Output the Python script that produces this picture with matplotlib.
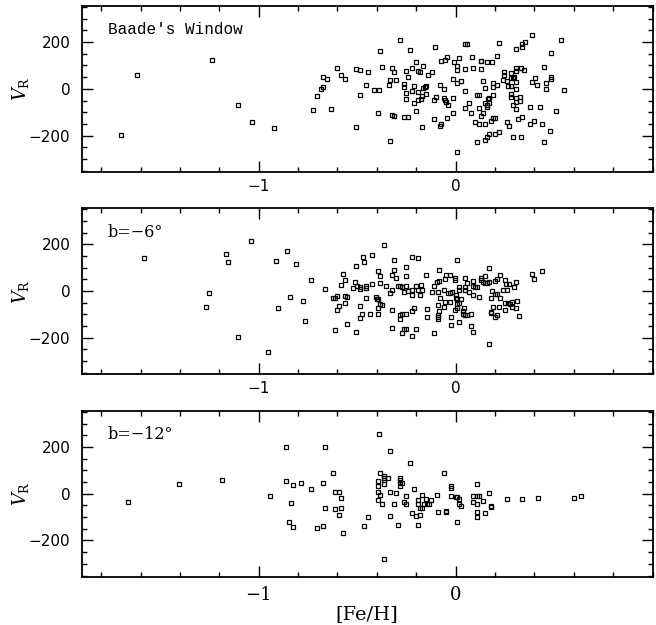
import matplotlib
matplotlib.use("Agg")
import matplotlib.pyplot as plt
from matplotlib.ticker import MultipleLocator, FixedLocator

plt.rcParams['mathtext.fontset'] = 'dejavuserif'

# ---------------- data ----------------
fe_baade = [-1.697, -1.616, -1.235, -1.105, -1.036, -0.924, -0.722, -0.704, -0.685, -0.673, -0.673, -0.655,
            -0.633, -0.604, -0.582, -0.563, -0.504, -0.484, -0.484, -0.504, -0.453, -0.443,
            -0.284, -0.382, -0.233, -0.103, 0.046, 0.057, 0.218, 0.389, 0.308, 0.335, 0.338, 0.350, 0.487, 0.536,
            -0.372, -0.324, -0.314, -0.252, -0.223, -0.201, -0.193, -0.181, -0.164, -0.142, -0.122, -0.073,
            -0.054, -0.042, -0.010, 0.008, 0.008, 0.017, 0.049, 0.081, 0.088, 0.127, 0.130, 0.128, 0.159,
            0.186, 0.208, 0.248, 0.248, 0.279, 0.308, 0.308, 0.330, 0.348, 0.450, 0.487, 0.487,
            -0.412, -0.390, -0.333, -0.302, -0.340, -0.262, -0.262, -0.252, -0.240, -0.223, -0.211, -0.193,
            -0.164, -0.155, -0.150, -0.150, -0.081, -0.061, -0.012, 0.008, 0.029, 0.049, 0.139, 0.149,
            0.189, 0.189, 0.208, 0.240, 0.259, 0.267, 0.279, 0.289, 0.297, 0.309, 0.279, 0.309, 0.389,
            0.401, 0.411, 0.460, 0.460, 0.549,
            -0.252, -0.211, -0.191, -0.174, -0.172, -0.112, -0.101, -0.059, -0.054, -0.049, -0.041, -0.012,
            0.049, 0.068, 0.110, 0.118, 0.118, 0.149, 0.159, 0.164, 0.169, 0.169, 0.189, 0.159, 0.279,
            0.279, 0.308, 0.328, 0.308, 0.328, 0.289, 0.308, 0.379, 0.429, 0.509,
            -0.392, -0.324, -0.313, -0.262, -0.240, -0.201, -0.172, -0.112, -0.081, -0.073, -0.042, -0.012,
            0.078, 0.098, 0.118, 0.149, 0.128, 0.139, 0.179, 0.189, 0.198, 0.259, 0.269, 0.318, 0.338,
            0.379, 0.399, 0.440, 0.480,
            -0.333, 0.108, 0.149, 0.159, 0.169, 0.198, 0.218, 0.289, 0.330, 0.450, 0.008]
vr_baade = [-199, 58, 125, -71, -140, -169, -91, -30, -1, 10, 51, 43,
            -85, 89, 61, 41, 84, 80, -27, -162, 16, 72,
            208, 163, 167, 179, 190, 193, 194, 228, 169, 180, 193, 201, 155, 208,
            94, 89, 71, 78, 89, 113, 78, 74, 99, 60, 74, 118,
            125, 136, 113, 98, 82, 133, 84, 136, 89, 118, 121, 86, 116,
            116, 140, 72, 61, 68, 88, 77, 91, 81, 95, 52, 43,
            -7, -7, 37, 38, 16, 20, 7, -16, 51, -10, 14, -14,
            3, 7, 13, -24, 18, -1, 44, 23, 35, -11, 35, 4,
            27, 6, 17, 38, 34, 11, 48, 47, 50, 28, 13, -1, 28,
            48, 18, 27, -1, -7,
            -43, -60, -48, -43, -31, -48, -34, -40, -47, -57, -71, -37,
            -82, -60, -26, -26, -82, -60, -68, -43, -40, -60, -28, -78, -21,
            -34, -40, -34, -57, -54, -69, -84, -79, -79, -96,
            -102, -111, -116, -122, -122, -96, -162, -130, -160, -152, -126, -105,
            -105, -143, -152, -149, -118, -105, -136, -126, -126, -143, -157, -130, -122,
            -149, -136, -152, -180,
            -223, -228, -218, -204, -193, -193, -186, -206, -206, -228, -268]

fe_b6 = [-1.584, -1.037, -1.166, -1.154, -1.254, -1.266, -1.103, -0.954, -0.914, -0.854, -0.812, -0.904,
         -0.843, -0.773, -0.733, -0.763, -0.663, -0.624, -0.614, -0.604, -0.594, -0.604, -0.613, -0.584,
         -0.574, -0.563, -0.563, -0.553, -0.563, -0.553, -0.523, -0.513, -0.503, -0.504, -0.484, -0.484,
         -0.472, -0.464, -0.453, -0.453, -0.423, -0.423, -0.453, -0.484, -0.474, -0.484, -0.504, -0.433,
         -0.364, -0.313, -0.223, -0.191, 0.008, -0.393, -0.382, -0.313, -0.323, -0.303, -0.252, -0.252,
         -0.152, -0.083, -0.382, -0.352, -0.325, -0.333, -0.293, -0.281, -0.272, -0.262, -0.252, -0.242,
         -0.222, -0.222, -0.203, -0.191, -0.181, -0.174, -0.171, -0.122, -0.112, -0.095, -0.083, -0.091,
         -0.081, -0.061, -0.052, -0.049, -0.030, -0.041, -0.030, -0.020, -0.052, -0.030, -0.061, -0.091,
         -0.083, -0.091, -0.091, -0.091, -0.144, -0.144, -0.112, -0.024, -0.022, -0.002, -0.002, 0.000,
         0.002, 0.008, 0.027, 0.007, 0.019, 0.008, -0.002, 0.019, 0.019, 0.019, 0.041, 0.037, 0.037,
         0.049, 0.059, 0.078, 0.049, 0.049, 0.049, 0.058, 0.069, 0.078, 0.088, 0.090, 0.088, 0.100,
         0.108, 0.090, 0.118, 0.127, 0.128, 0.149, 0.139, 0.149, 0.159, 0.169, 0.171, 0.169, 0.179,
         0.186, 0.198, 0.208, 0.179, 0.179, 0.189, 0.198, 0.208, 0.218, 0.198, 0.208, 0.228, 0.228,
         0.239, 0.249, 0.257, 0.259, 0.249, 0.249, 0.267, 0.277, 0.288, 0.288, 0.310, 0.308, 0.321,
         0.298, 0.308, 0.269, 0.387, 0.399, 0.438, -0.404, -0.399, -0.394, -0.393, -0.382, -0.372,
         -0.393, -0.323, -0.323, -0.281, -0.281, -0.272, -0.250, -0.262, -0.272, -0.252, -0.222, -0.211,
         -0.222, -0.203]
vr_b6 = [144, 216, 158, 124, -10, -66, -196, -262, 131, 172, 118, -72,
         -24, -41, 49, -128, 8, -28, -28, -21, -63, -79, -168, 28,
         73, 49, -20, -24, -52, -142, 13, 39, 24, 107, 17, 11,
         145, 124, 23, 13, 157, 31, -31, -65, -100, -117, -173, -100,
         196, 133, 145, 140, 133, 86, 63, 89, 68, 55, 103, 63,
         68, 92, 35, 24, 7, -7, 23, 20, 17, -3, 21, 1,
         6, -17, 23, 3, -18, 25, 4, -3, 21, 39, 42, -3,
         -31, 4, 51, 68, 68, -6, -10, -4, -45, -45, -66, -59,
         -83, -102, -109, -118, -75, -109, -180, -110, -145, 58, 47, -17,
         -28, -32, -32, -56, -52, -73, -82, -134, 18, 4, -73, -87, -99,
         -102, -103, -96, 56, 18, 4, 35, -2, -148, -173, 42, 21, 18,
         18, -17, -24, 56, 47, 66, 39, 35, 34, 100, -226, 39, -31,
         1, -13, -13, -90, -94, -69, -109, -102, -69, 42, 51, 69, -31,
         4, 47, 32, 7, -82, -49, -52, -55, -66, -45, -41, -73, -106,
         18, 39, 32, 75, 52, 86, -23, -32, -32, -73, -56, -61,
         -99, -82, -158, -102, -118, -97, -97, -162, -178, -162, -192, -73,
         -83, -162]

fe_b12 = [-1.665, -1.406, -1.184, -0.944, -0.863, -0.863, -0.834, -0.844, -0.824, -0.824, -0.783, -0.733,
          -0.673, -0.665, -0.665, -0.672, -0.704, -0.623, -0.614, -0.594, -0.584, -0.614, -0.584, -0.594,
          -0.574, -0.464, -0.443,
          -0.391, -0.333, -0.232, -0.061, -0.393, -0.393, -0.393, -0.382, -0.362, -0.362, -0.362, -0.362,
          -0.342, -0.382, -0.393, -0.372, -0.333, -0.303, -0.313, -0.333, -0.293, -0.364, -0.283, -0.283,
          -0.283, -0.272, -0.283, -0.252, -0.262, -0.252, -0.212, -0.222, -0.201, -0.181, -0.191, -0.191,
          -0.191, -0.171, -0.181, -0.171, -0.161, -0.151, -0.144, -0.134, -0.124, -0.093, -0.091, -0.051,
          -0.051, -0.022, -0.022, -0.022, 0.000, 0.007, 0.017, 0.017, 0.029, 0.008, 0.088, 0.108, 0.088,
          0.108, 0.108, 0.108, 0.108, 0.118, 0.139, 0.149, 0.169, 0.178, 0.178, 0.259, 0.338, 0.420,
          0.599, 0.638]
vr_b12 = [-34, 42, 59, -8, 201, 53, -39, -121, -143, 37, 46, 21,
          45, 201, -62, -139, -146, 90, 7, 7, -17, -66, -60, -93,
          -170, -138, -100,
          256, 181, 132, 88, 56, 31, 8, 90, 77, 67, 59, 41,
          67, -7, -27, -42, 6, 3, -44, -94, -132, -279, 66, 60,
          46, 46, 32, -8, -35, -45, 18, -81, -95, -91, -136, -29,
          -45, -7, -63, -63, -42, -21, -46, -42, -29, -7, -80, -73,
          -80, 34, 24, -11, -14, -14, -24, -42, -53, -119, -8, -8, -37,
          -42, -80, -98, 41, -8, -31, -83, 1, -52, -56, -22, -22, -18,
          -18, -8]

panel_labels = ["Baade's Window", "b=\u22126\u00b0", "b=\u221212\u00b0"]
x_ticks = [-1, 0]
y_ticks = [-200, 0, 200]
x_label = "[Fe/H]"

# ---------------- figure ----------------
W, H = 656, 625
fig = plt.figure(figsize=(W / 100, H / 100), dpi=100)

left_px, right_px = 81.5, 652.5
panels_px = [(5.7, 172.0), (208.3, 374.0), (410.7, 576.7)]
datasets = [(fe_baade, vr_baade), (fe_b6, vr_b6), (fe_b12, vr_b12)]

for i, ((top, bot), (fe, vr)) in enumerate(zip(panels_px, datasets)):
    ax = fig.add_axes([left_px / W, 1 - bot / H, (right_px - left_px) / W, (bot - top) / H])
    ax.plot(fe, vr, linestyle='none', marker='s', markersize=3.0,
            markerfacecolor='none', markeredgecolor='black', markeredgewidth=0.9)
    ax.set_xlim(-1.9, 1.0)
    ax.set_ylim(-355, 355)
    ax.xaxis.set_major_locator(FixedLocator(x_ticks))
    ax.xaxis.set_minor_locator(MultipleLocator(0.2))
    ax.yaxis.set_major_locator(FixedLocator(y_ticks))
    ax.yaxis.set_minor_locator(MultipleLocator(50))
    ax.tick_params(which='both', direction='in', top=True, right=True, width=1.0)
    ax.tick_params(which='major', length=8)
    ax.tick_params(which='minor', length=3.3)
    ax.tick_params(axis='x', which='major', pad=(7 if i == 2 else 5))
    ax.tick_params(axis='y', which='major', pad=8)
    for s in ax.spines.values():
        s.set_linewidth(1.3)
    if i == 2:
        for lab in ax.get_xticklabels():
            lab.set_family('DejaVu Serif')
            lab.set_fontsize(13)
    else:
        for lab in ax.get_xticklabels():
            lab.set_fontsize(11)
    for lab in ax.get_yticklabels():
        lab.set_fontsize(11)
    ax.set_ylabel(r'$V_{\mathrm{R}}$', fontsize=13, rotation=90)
    ax.yaxis.set_label_coords(-0.088, 0.5)
    if i == 0:
        ax.text(0.046, 0.855, panel_labels[i], transform=ax.transAxes,
                family='Liberation Mono', fontsize=11.5, va='center', ha='left')
    else:
        ax.text(0.046, 0.855, panel_labels[i], transform=ax.transAxes,
                family='DejaVu Serif', fontsize=11.5, va='center', ha='left')
    if i == 2:
        ax.set_xlabel(x_label, family='DejaVu Serif', fontsize=14)
        ax.xaxis.set_label_coords(0.5, -0.168)

fig.savefig('out.png', dpi=100)
